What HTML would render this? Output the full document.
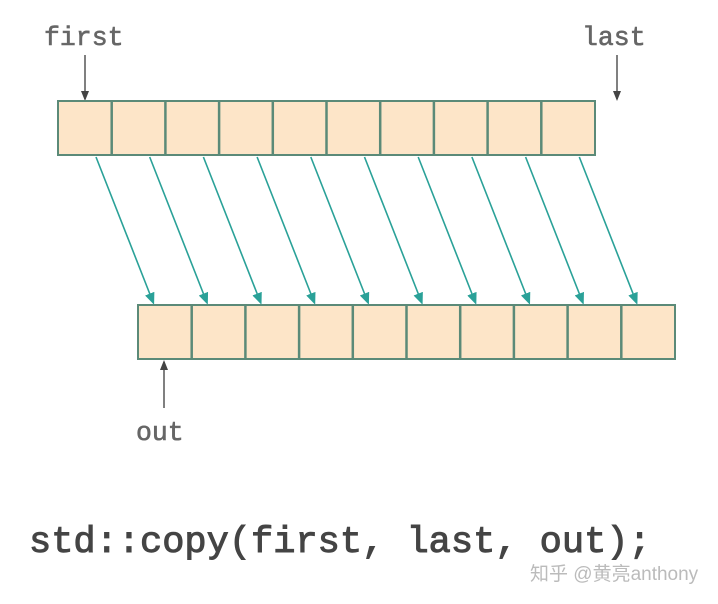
<!DOCTYPE html>
<html><head><meta charset="utf-8"><style>
html,body{margin:0;padding:0;background:#fff;width:718px;height:604px;overflow:hidden}
</style></head><body>
<svg width="718" height="604" xmlns="http://www.w3.org/2000/svg">
<defs>
<marker id="t" markerWidth="12" markerHeight="10" refX="9" refY="5" orient="auto" markerUnits="userSpaceOnUse"><path d="M0,0 L12,5 L0,10 z" fill="#2aa198"/></marker>
<marker id="g" markerWidth="10" markerHeight="8" refX="8" refY="4" orient="auto" markerUnits="userSpaceOnUse"><path d="M0,0 L10,4 L0,8 z" fill="#444"/></marker>
</defs>
<g font-family="Liberation Mono, monospace" fill="#666" stroke="#666" stroke-width="0.6">
<text x="44" y="45" font-size="26.5">first</text>
<text x="582" y="45" font-size="26.5">last</text>
<text x="136" y="440" font-size="26.5">out</text>
</g>
<line x1="85" y1="55" x2="85" y2="99" stroke="#555" stroke-width="1.5" marker-end="url(#g)"/>
<line x1="617" y1="55" x2="617" y2="99" stroke="#555" stroke-width="1.5" marker-end="url(#g)"/>
<line x1="164" y1="408" x2="164" y2="362" stroke="#555" stroke-width="1.5" marker-end="url(#g)"/>
<g fill="#fde5c8" stroke="#5b8a78" stroke-width="2">
<rect x="58" y="101" width="537" height="54"/>
<rect x="138" y="305" width="537" height="54"/>
</g>
<g stroke="#5b8a78" stroke-width="2.5">
<line x1="111.7" y1="101" x2="111.7" y2="155"/><line x1="165.4" y1="101" x2="165.4" y2="155"/><line x1="219.1" y1="101" x2="219.1" y2="155"/><line x1="272.8" y1="101" x2="272.8" y2="155"/><line x1="326.5" y1="101" x2="326.5" y2="155"/><line x1="380.2" y1="101" x2="380.2" y2="155"/><line x1="433.9" y1="101" x2="433.9" y2="155"/><line x1="487.6" y1="101" x2="487.6" y2="155"/><line x1="541.3" y1="101" x2="541.3" y2="155"/>
<line x1="191.7" y1="305" x2="191.7" y2="359"/><line x1="245.4" y1="305" x2="245.4" y2="359"/><line x1="299.1" y1="305" x2="299.1" y2="359"/><line x1="352.8" y1="305" x2="352.8" y2="359"/><line x1="406.5" y1="305" x2="406.5" y2="359"/><line x1="460.2" y1="305" x2="460.2" y2="359"/><line x1="513.9" y1="305" x2="513.9" y2="359"/><line x1="567.6" y1="305" x2="567.6" y2="359"/><line x1="621.3" y1="305" x2="621.3" y2="359"/>
</g>
<g stroke="#2aa198" stroke-width="1.6" marker-end="url(#t)">
<line x1="96" y1="157" x2="153" y2="302"/>
<line x1="149.7" y1="157" x2="206.7" y2="302"/>
<line x1="203.4" y1="157" x2="260.4" y2="302"/>
<line x1="257.1" y1="157" x2="314.1" y2="302"/>
<line x1="310.8" y1="157" x2="367.8" y2="302"/>
<line x1="364.5" y1="157" x2="421.5" y2="302"/>
<line x1="418.2" y1="157" x2="475.2" y2="302"/>
<line x1="471.9" y1="157" x2="528.9" y2="302"/>
<line x1="525.6" y1="157" x2="582.6" y2="302"/>
<line x1="579.3" y1="157" x2="636.3" y2="302"/>
</g>
<text x="29" y="552" font-family="Liberation Mono, monospace" font-size="37" fill="#444" stroke="#444" stroke-width="1">std::copy(first, last, out);</text>
<text x="530" y="580" font-family="Liberation Sans, Noto Sans CJK SC, sans-serif" font-size="19" fill="#bbb">知乎 @黄亮anthony</text>
</svg>
</body></html>
